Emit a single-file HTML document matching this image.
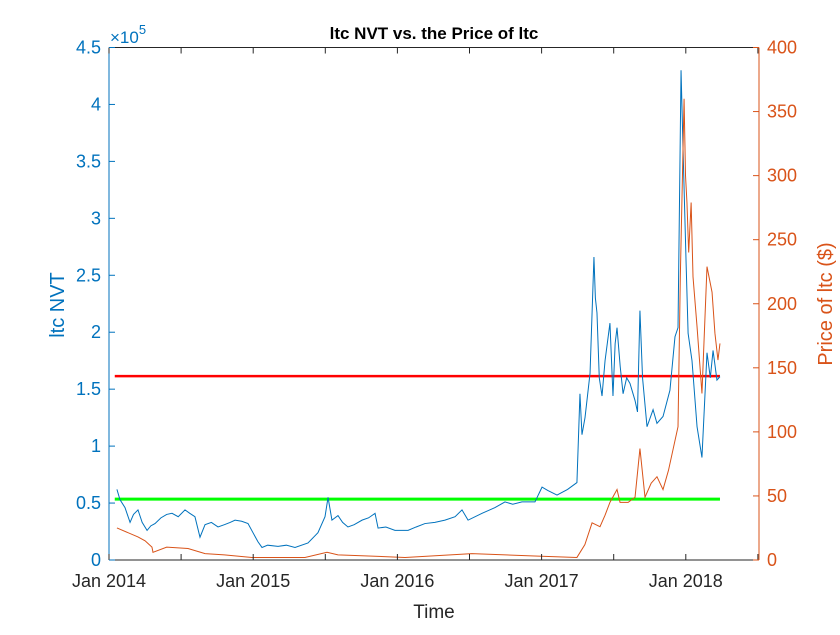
<!DOCTYPE html>
<html><head><meta charset="utf-8"><style>
body{margin:0;background:#fff;}
svg{font-family:"Liberation Sans",sans-serif;}
</style></head><body>
<svg id="c" width="840" height="630" viewBox="0 0 840 630">
<rect width="840" height="630" fill="#fff"/>
<g id="g"></g>
<text x="110" y="43" font-size="17" fill="#0072BD">×10<tspan dy="-9" font-size="13">5</tspan></text>
<text x="434" y="39" text-anchor="middle" font-size="17" font-weight="bold" fill="#000">ltc NVT vs. the Price of ltc</text>
<text x="434" y="618" text-anchor="middle" font-size="19" fill="#262626">Time</text>
<text transform="translate(64,305) rotate(-90)" text-anchor="middle" font-size="20" fill="#0072BD">ltc NVT</text>
<text transform="translate(832,304) rotate(-90)" text-anchor="middle" font-size="20" fill="#D95319">Price of ltc ($)</text>
</svg>
<script>
const nvtT=[.055,.076,.111,.146,.17,.201,.23,.264,.29,.319,.36,.40,.437,.48,.527,.56,.596,.631,.666,.71,.756,.80,.84,.874,.92,.964,1.033,1.061,1.10,1.172,1.23,1.290,1.380,1.449,1.498,1.519,1.546,1.588,1.62,1.657,1.70,1.755,1.80,1.845,1.866,1.92,1.983,2.074,2.13,2.191,2.26,2.330,2.40,2.448,2.490,2.587,2.677,2.746,2.80,2.864,2.954,3.003,3.044,3.107,3.18,3.245,3.266,3.28,3.301,3.336,3.363,3.373,3.384,3.40,3.419,3.44,3.474,3.495,3.51,3.523,3.545,3.565,3.59,3.613,3.648,3.665,3.682,3.70,3.731,3.773,3.80,3.842,3.890,3.925,3.946,3.967,3.981,4.002,4.016,4.043,4.078,4.112,4.147,4.17,4.189,4.216,4.237];
const nvtV=[.62,.53,.46,.33,.40,.44,.33,.26,.30,.32,.37,.40,.41,.38,.44,.41,.38,.20,.31,.33,.29,.31,.33,.35,.34,.32,.16,.11,.13,.12,.13,.11,.15,.24,.38,.55,.35,.39,.33,.29,.31,.35,.37,.41,.28,.29,.26,.26,.29,.32,.33,.35,.38,.44,.35,.41,.46,.51,.49,.51,.51,.64,.61,.57,.62,.68,1.46,1.10,1.25,1.64,2.66,2.30,2.17,1.60,1.44,1.75,2.08,1.44,1.90,2.04,1.70,1.46,1.60,1.55,1.40,1.30,2.19,1.60,1.17,1.32,1.20,1.26,1.49,1.96,2.04,4.30,3.60,2.61,1.99,1.75,1.17,.90,1.82,1.60,1.84,1.58,1.61];
const priceT=[.055,.201,.25,.298,.305,.40,.548,.666,.80,.992,1.20,1.359,1.512,1.588,2.053,2.517,2.975,3.245,3.30,3.350,3.405,3.44,3.474,3.523,3.544,3.60,3.648,3.682,3.717,3.76,3.800,3.842,3.88,3.911,3.946,3.962,3.988,3.998,4.008,4.020,4.037,4.050,4.078,4.112,4.147,4.182,4.202,4.223,4.237];
const priceV=[25,18,15,10,6,10,9,5,4,2,2,2,6,4,2,5,3,2,12,29,26,35,45,55,45,45,49,87,49,60,65,55,70,86,104,221,360,300,279,240,279,221,182,130,229,209,177,156,169];
const refLines=[1.614,0.535];
const refColors=["#ff0000","#00ff00"];
const xTickLabels=["Jan 2014","Jan 2015","Jan 2016","Jan 2017","Jan 2018"];
const yLeftTicks=["0","0.5","1","1.5","2","2.5","3","3.5","4","4.5"];
const yRightTicks=["0","50","100","150","200","250","300","350","400"];
const L=109,R=759,T=47.5,B=560;
const xS=t=>L+t*144.2;
const yL=v=>B-v*(B-T)/4.5;
const yR=v=>B-v*(B-T)/400;
const g=document.getElementById('g');
const NS='http://www.w3.org/2000/svg';
function el(tag,attrs,text){const e=document.createElementNS(NS,tag);for(const k in attrs)e.setAttribute(k,attrs[k]);if(text!==undefined)e.textContent=text;g.appendChild(e);return e;}
refLines.forEach((v,i)=>{
  const e=el('line',{x1:xS(0.04),x2:xS(4.237),y1:yL(v),y2:yL(v),stroke:refColors[i],'stroke-width':i?3:2.5});
  
  
});
let n=el('polyline',{points:nvtT.map((t,i)=>xS(t)+','+yL(nvtV[i])).join(' '),fill:'none',stroke:'#0072BD','stroke-width':1});


let p=el('polyline',{points:priceT.map((t,i)=>xS(t)+','+yR(priceV[i])).join(' '),fill:'none',stroke:'#D95319','stroke-width':1});


let ax=el('line',{x1:L,x2:R,y1:B,y2:B,stroke:'#262626','stroke-width':1});


let ax2=el('line',{x1:L,x2:R,y1:T,y2:T,stroke:'#262626','stroke-width':1});


let yl=el('line',{x1:L,x2:L,y1:T,y2:B,stroke:'#0072BD','stroke-width':1});


let yr=el('line',{x1:R,x2:R,y1:T,y2:B,stroke:'#D95319','stroke-width':1});


for(let k=0;k<=9;k++){const x=xS(k*0.5);
  el('line',{x1:x,x2:x,y1:B,y2:B-6,stroke:'#262626'});el('line',{x1:x,x2:x,y1:T,y2:T+6,stroke:'#262626'});
  if(k%2===0){const t=el('text',{x:x,y:B+27,'text-anchor':'middle','font-size':18,fill:'#262626'},xTickLabels[k/2]);
    
    }
}
yLeftTicks.forEach((s,i)=>{const y=yL(i*0.5);el('line',{x1:L,x2:L+6,y1:y,y2:y,stroke:'#0072BD'});
  const t=el('text',{x:L-8,y:y+6,'text-anchor':'end','font-size':18,fill:'#0072BD'},s);
  
  });
yRightTicks.forEach((s,i)=>{const y=yR(i*50);el('line',{x1:R,x2:R-6,y1:y,y2:y,stroke:'#D95319'});
  const t=el('text',{x:R+8,y:y+6,'font-size':18,fill:'#D95319'},s);
  
  });
</script>
</body></html>
